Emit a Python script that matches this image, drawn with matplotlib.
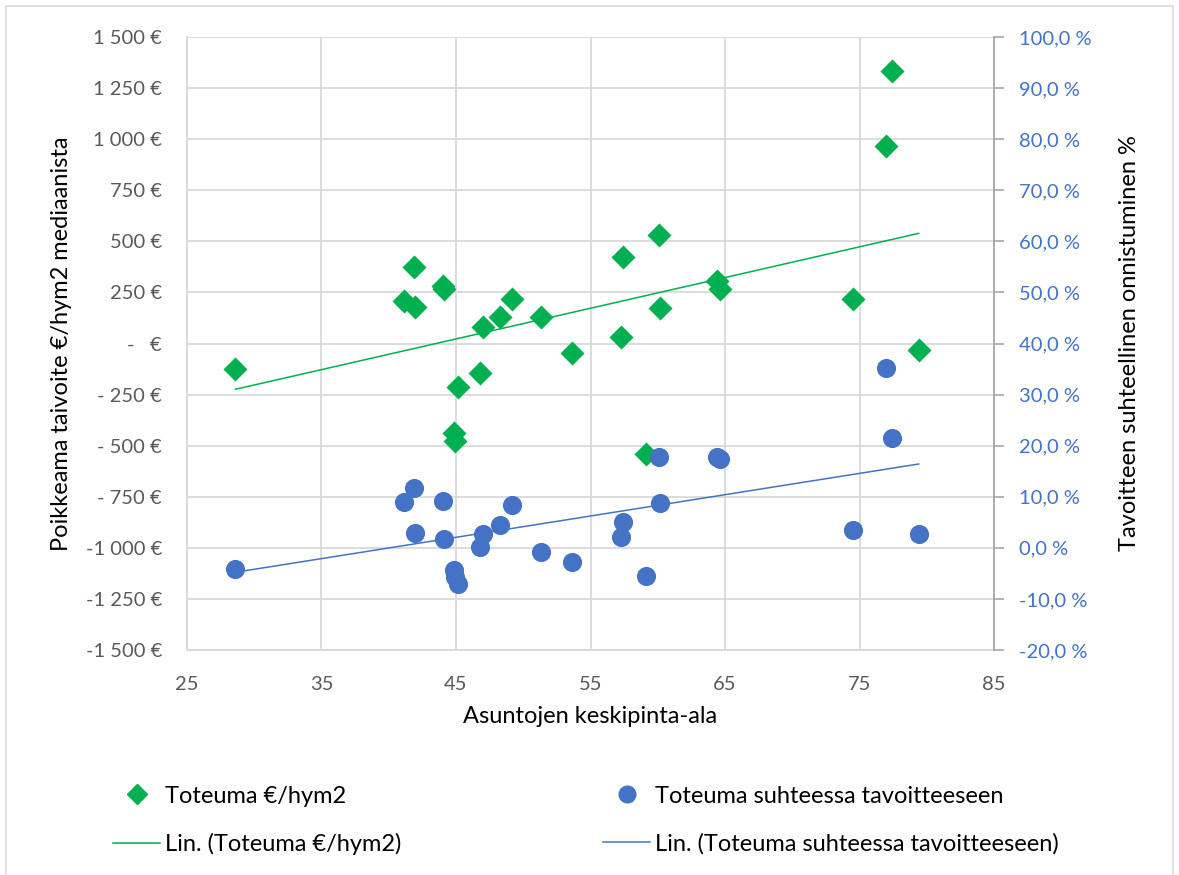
import numpy as np
import matplotlib.pyplot as plt
from matplotlib.lines import Line2D
from matplotlib.patches import Rectangle

# ---- data ----
area = [28.6, 41.1, 41.9, 41.95, 44.0, 44.1, 44.87, 44.95, 45.13, 46.8, 47.0,
        48.3, 49.2, 51.3, 53.6, 57.4, 57.3, 59.1, 60.1, 60.2, 64.4, 64.65,
        74.5, 76.95, 77.4, 79.4]
eur_per_m2 = [-125, 209, 376, 180, 281, 267, -439, -478, -214, -146, 82,
              131, 219, 128, -45, 425, 30, -541, 529, 172, 307, 268,
              216, 966, 1335, -32]
pct_of_target = [-4.05, 9.0, 11.7, 3.0, 9.1, 1.8, -4.4, -5.8, -7.1, 0.25, 2.7,
                 4.4, 8.4, -0.9, -2.7, 5.0, 2.2, -5.5, 17.7, 8.7, 17.7, 17.3,
                 3.5, 35.2, 21.5, 2.7]

left_ticks = [-1500, -1250, -1000, -750, -500, -250, 0, 250, 500, 750, 1000, 1250, 1500]
left_labels = ["-1 500 €", "-1 250 €", "-1 000 €", "- 750 €", "- 500 €", "- 250 €",
               "-   €", "250 €", "500 €", "750 €", "1 000 €", "1 250 €", "1 500 €"]
right_ticks = [-20, -10, 0, 10, 20, 30, 40, 50, 60, 70, 80, 90, 100]
right_labels = [f"{t},0 %" for t in right_ticks]
x_ticks = [25, 35, 45, 55, 65, 75, 85]

GREEN = "#00B050"
BLUE = "#4472C4"
GRID = "#D9D9D9"
TXT = "#595959"

plt.rcParams['font.family'] = ['Lato', 'DejaVu Sans']

fig = plt.figure(figsize=(11.79, 8.75), dpi=100)
ax = fig.add_axes([0.1586, 0.2571, 0.6845, 0.7006])
ax2 = ax.twinx()

# Excel chart area border
fig.patches.append(Rectangle((6 / 1179, -0.01), 1167 / 1179, 1 - 6 / 875 + 0.01,
                             transform=fig.transFigure, fill=False,
                             edgecolor=GRID, linewidth=1.2))

x = np.array(area)
ax.scatter(x, eur_per_m2, marker="D", s=150, color=GREEN, zorder=3, linewidths=0)
ax2.scatter(x, pct_of_target, marker="o", s=190, color=BLUE, zorder=3, linewidths=0)

# linear trend lines
xs = np.array([x.min(), x.max()])
k1, b1 = np.polyfit(x, eur_per_m2, 1)
k2, b2 = np.polyfit(x, pct_of_target, 1)
ax.plot(xs, k1 * xs + b1, color=GREEN, linewidth=1.1, zorder=2)
ax2.plot(xs, k2 * xs + b2, color=BLUE, linewidth=1.1, zorder=2)

ax.set_xlim(25, 85)
ax.set_ylim(-1500, 1500)
ax2.set_ylim(-20, 100)
ax.set_xticks(x_ticks)
ax.set_yticks(left_ticks)
ax.set_yticklabels(left_labels)
ax2.set_yticks(right_ticks)
ax2.set_yticklabels(right_labels)

ax.grid(True, color=GRID, linewidth=1.3)
ax.set_axisbelow(True)
for s in ["top", "right"]:
    ax.spines[s].set_visible(False)
ax.spines["left"].set_color(GRID)
ax.spines["bottom"].set_color(GRID)
ax.spines["left"].set_linewidth(1.3)
ax.spines["bottom"].set_linewidth(1.3)
for s in ["top", "left", "bottom"]:
    ax2.spines[s].set_visible(False)
ax2.spines["right"].set_color("#A6A6A6")
ax2.spines["right"].set_linewidth(1.3)

ax.tick_params(axis="y", length=0, labelsize=14.5, labelcolor=TXT, pad=18)
ax.tick_params(axis="x", length=0, labelsize=14.5, labelcolor=TXT, pad=19)
ax2.tick_params(axis="y", length=7, color="#A6A6A6", width=1.2,
                labelsize=14.5, labelcolor=BLUE, pad=11)

ax.set_xlabel("Asuntojen keskipinta-ala", fontsize=17, labelpad=9)
ax.set_ylabel("Poikkeama taivoite €/hym2 mediaanista", fontsize=17, labelpad=10)
ax2.set_ylabel("Tavoitteen suhteellinen onnistuminen %", fontsize=17, labelpad=20)

handles = [
    Line2D([], [], marker="D", linestyle="none", color=GREEN, markersize=10),
    Line2D([], [], color=GREEN, linewidth=1.1),
    Line2D([], [], marker="o", linestyle="none", color=BLUE, markersize=12),
    Line2D([], [], color=BLUE, linewidth=1.1),
]
labels = ["Toteuma €/hym2", "Lin. (Toteuma €/hym2)",
          "Toteuma suhteessa tavoitteeseen", "Lin. (Toteuma suhteessa tavoitteeseen)"]
fig.legend(handles, labels, ncol=2, loc="upper left", bbox_to_anchor=(0.0958, 0.102),
           frameon=False, fontsize=17, columnspacing=8.55, handlelength=2.0,
           labelspacing=1.1, handletextpad=0.2, borderpad=0, borderaxespad=0)

fig.savefig("out.png", dpi=100)
